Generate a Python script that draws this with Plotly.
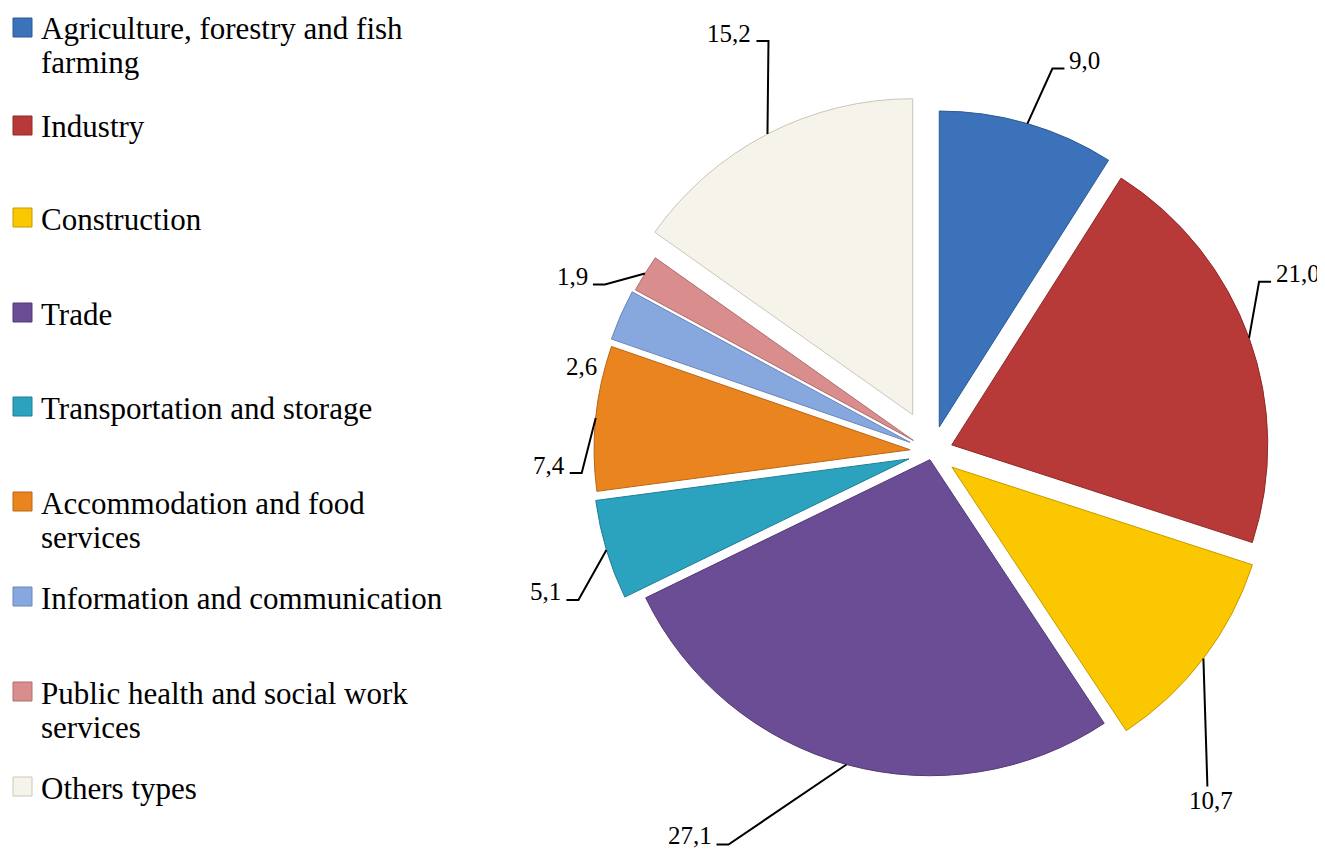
import math
import plotly.graph_objects as go

# ---------------- data ----------------
categories = [
    "Agriculture, forestry and fish<br>farming",
    "Industry",
    "Construction",
    "Trade",
    "Transportation and storage",
    "Accommodation and food<br>services",
    "Information and communication",
    "Public health and social work<br>services",
    "Others types",
]
shares = [9.0, 21.0, 10.7, 27.1, 5.1, 7.4, 2.6, 1.9, 15.2]
value_labels = ["9,0", "21,0", "10,7", "27,1", "5,1", "7,4", "2,6", "1,9", "15,2"]

# ---------------- style ----------------
colors = ["#3b72b9", "#b73a38", "#fbc700", "#6a4d94", "#2ba2be",
          "#ea841f", "#86a8de", "#d98d8c", "#f6f4ea"]
edge_colors = ["#2c5a95", "#8e2a28", "#c99a00", "#523a75", "#1f7e95",
               "#b8661a", "#6a88b8", "#b06e6e", "#c9c6b8"]
pulls_px = [26, 21, 25, 8, 24, 22, 24, 22, 42]

W, H = 1325, 852          # browser window
OFF = 8                   # default page body margin
FW, FH = W - OFF, H - OFF  # figure size so that it ends at the window edge
CX, CY, R = 932, 452, 316  # pie centre / radius in window pixels
FONT = "Liberation Serif, Times New Roman, serif"
LBL_SIZE = 25

pulls = [p / R for p in pulls_px]
max_pull = max(pulls)
half = R * (1 + max_pull)

def px(x):
    return (x - OFF) / FW

def py(y):
    return 1 - (y - OFF) / FH

dom_x = [px(CX - half), px(CX + half)]
dom_y = [py(CY + half), py(CY - half)]

fig = go.Figure(go.Pie(
    labels=[c.replace("<br>", " ") for c in categories],
    values=shares,
    sort=False,
    direction="clockwise",
    rotation=0,
    pull=pulls,
    marker=dict(colors=colors, line=dict(color=edge_colors, width=1)),
    textinfo="none",
    hovertemplate="%{label}: %{value}<extra></extra>",
    domain=dict(x=dom_x, y=dom_y),
    showlegend=False,
))

# ---------------- data labels with leader lines ----------------
# per label: elbow offset from slice edge (dx, dy), tick direction (-1 left, +1 right, 0 below, None no line)
label_style = [
    ((25, -55), 1),
    ((10, -56), 1),
    ((4, 128), 0),
    ((-118, 80), -1),
    ((-28, 50), -1),
    ((-14, 55), -1),
    ((-39, 51), None),
    ((-40, 11), -1),
    ((1, -93), -1),
]

total = sum(shares)
cum = 0.0
shapes = []
annotations = []
lbl_font = dict(family=FONT, size=LBL_SIZE, color="#000")
for i, v in enumerate(shares):
    mid = (cum + v / 2) / total * 2 * math.pi
    cum += v
    dist = R + pulls_px[i]
    ex = CX + dist * math.sin(mid)
    ey = CY - dist * math.cos(mid)
    (dx, dy), tick = label_style[i]
    kx, ky = ex + dx, ey + dy
    if tick is None:
        annotations.append(dict(x=px(kx), y=py(ky), xref="paper", yref="paper",
                                text=value_labels[i], showarrow=False, font=lbl_font,
                                xanchor="center", yanchor="middle"))
        continue
    if tick == 0:
        path = f"M {px(ex)} {py(ey)} L {px(kx)} {py(ky)}"
        annotations.append(dict(x=px(kx + 4), y=py(ky - 1), xref="paper", yref="paper",
                                text=value_labels[i], showarrow=False, font=lbl_font,
                                xanchor="center", yanchor="top"))
    else:
        tx = kx + tick * 12
        cy_txt = ky - 8
        if cy_txt + 17 > H - 1:
            ya, yy = "bottom", H - 1
        else:
            ya, yy = "middle", cy_txt
        annotations.append(dict(x=px(tx + tick * 3), y=py(yy), xref="paper", yref="paper",
                                text=value_labels[i], showarrow=False, font=lbl_font,
                                xanchor="left" if tick > 0 else "right", yanchor=ya))
        path = f"M {px(ex)} {py(ey)} L {px(kx)} {py(ky)} L {px(tx)} {py(ky)}"
    shapes.append(dict(type="path", path=path, xref="paper", yref="paper",
                       line=dict(color="#000", width=2)))

# ---------------- legend (left column) ----------------
legend_baselines = [39, 137, 229, 324, 418, 513, 608, 703, 798]
for i, cat in enumerate(categories):
    base = legend_baselines[i]
    shapes.append(dict(type="rect", xref="paper", yref="paper",
                       x0=px(13), x1=px(32), y0=py(base - 2), y1=py(base - 21),
                       fillcolor=colors[i], line=dict(color=edge_colors[i], width=1)))
    for j, line in enumerate(cat.split("<br>")):
        annotations.append(dict(x=px(39), y=py(base + 34 * j - 10), xref="paper", yref="paper",
                                text=line, showarrow=False,
                                font=dict(family=FONT, size=31, color="#000"),
                                xanchor="left", yanchor="middle"))

fig.update_layout(
    width=FW, height=FH,
    margin=dict(l=0, r=0, t=0, b=0),
    paper_bgcolor="white", plot_bgcolor="white",
    shapes=shapes, annotations=annotations,
)
fig.write_html("out.html")
